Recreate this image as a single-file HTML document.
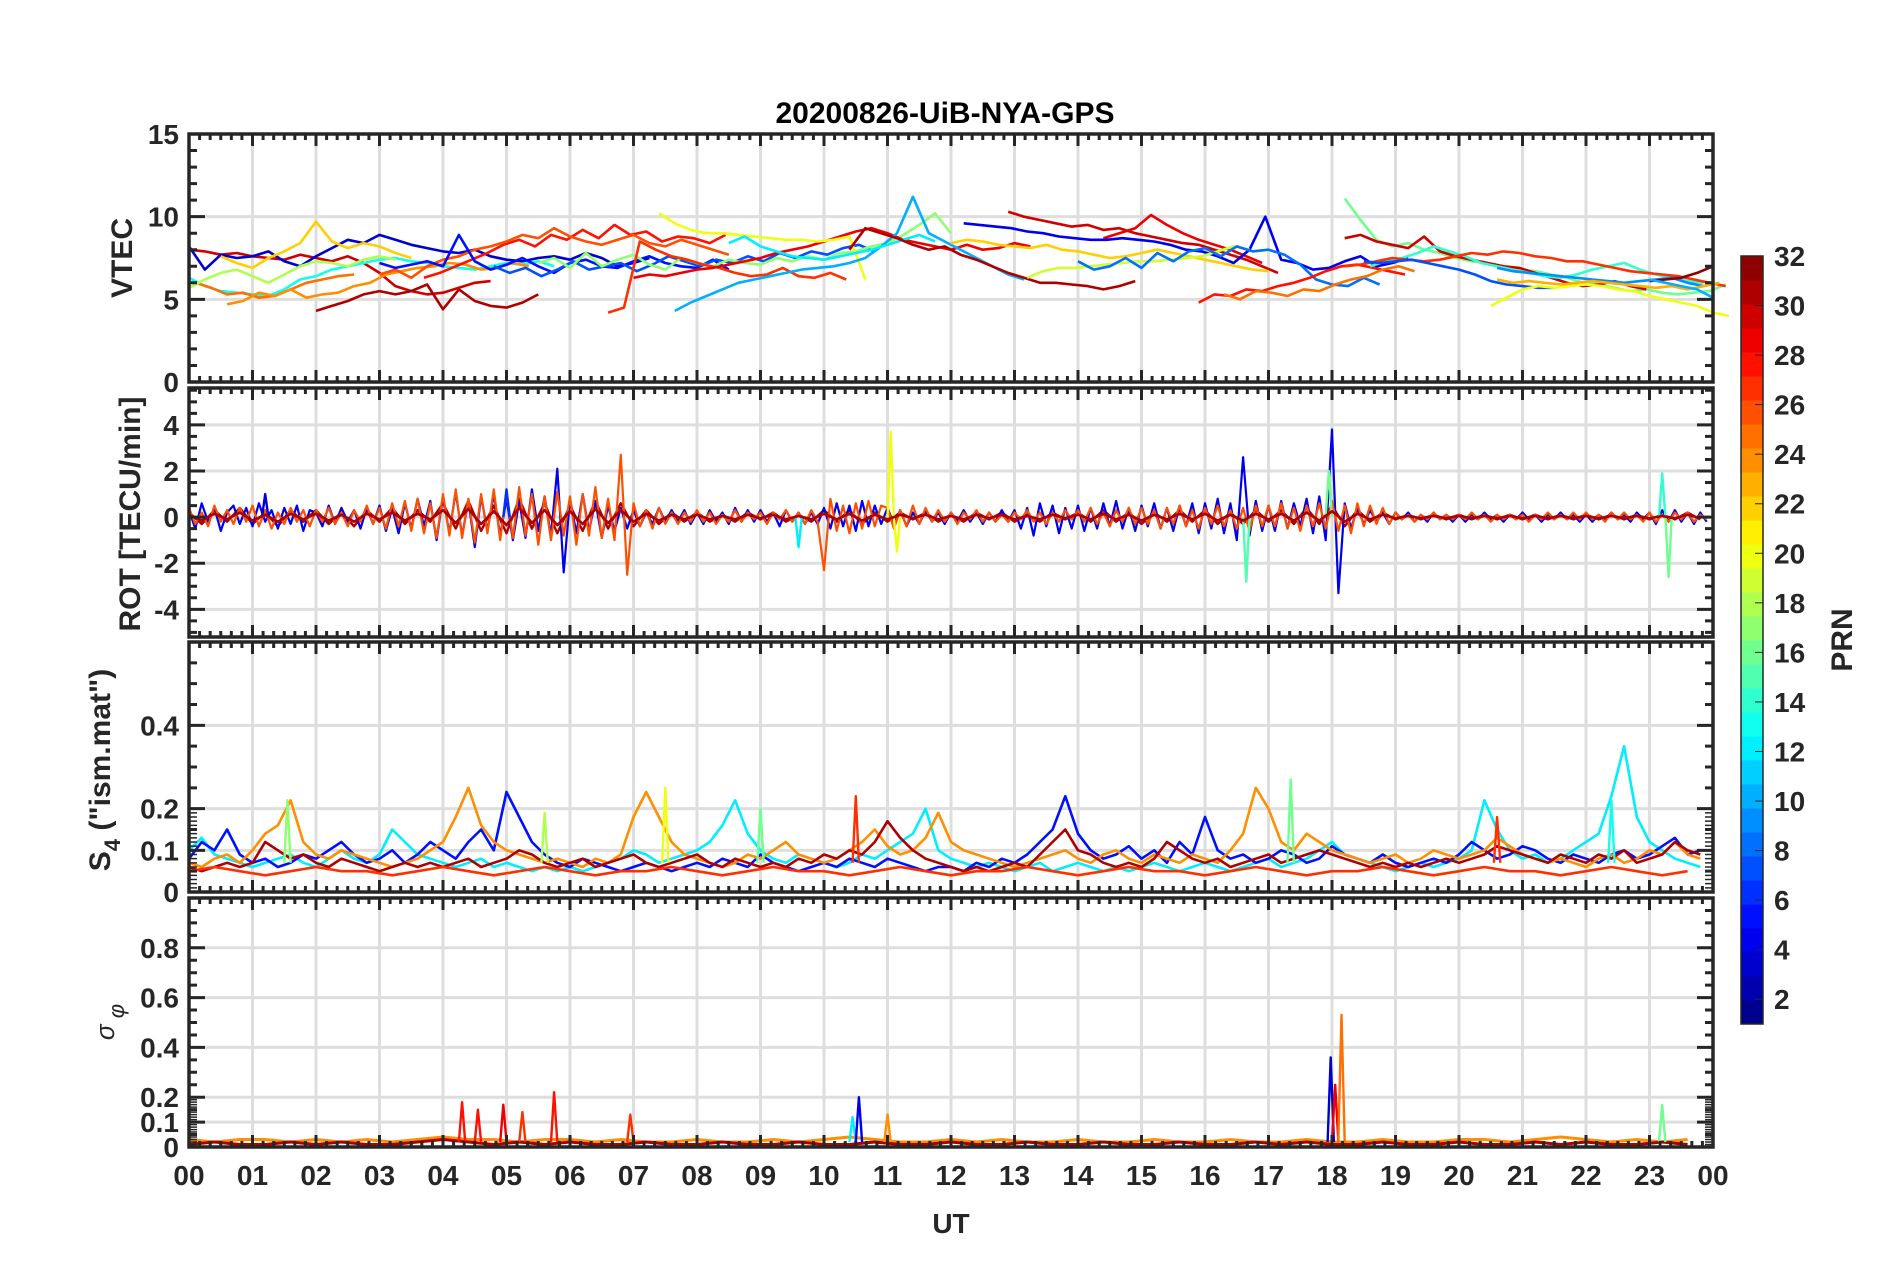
<!DOCTYPE html>
<html><head><meta charset="utf-8"><style>
html,body{margin:0;padding:0;background:#fff;}
svg{display:block;font-family:"Liberation Sans",Arial,sans-serif;}
</style></head><body>
<svg id="fig" width="1902" height="1272" viewBox="0 0 1902 1272" xmlns="http://www.w3.org/2000/svg">
<rect x="0" y="0" width="1902" height="1272" fill="#fff"/>
<text x="945" y="123" text-anchor="middle" font-size="30" font-weight="bold" fill="#000">20200826-UiB-NYA-GPS</text>
<text x="951" y="1233" text-anchor="middle" font-size="28" font-weight="bold" fill="#262626">UT</text>
<text transform="translate(132,258) rotate(-90)" text-anchor="middle" font-size="30" font-weight="bold" fill="#262626">VTEC</text>
<text transform="translate(140,514) rotate(-90)" text-anchor="middle" font-size="30" font-weight="bold" fill="#262626">ROT [TECU/min]</text>
<text transform="translate(110,770) rotate(-90)" text-anchor="middle" font-size="30" font-weight="bold" fill="#262626">S<tspan font-size="22" dy="10">4</tspan><tspan dy="-10"> ("ism.mat")</tspan></text>
<text transform="translate(114,1022) rotate(-90)" text-anchor="middle" font-size="26" font-style="italic" fill="#262626">σ<tspan font-size="22" dy="10"> φ</tspan></text>
<text transform="translate(1852,640) rotate(-90)" text-anchor="middle" font-size="30" font-weight="bold" fill="#262626">PRN</text>
<g id="layer"></g>
</svg>
<script>
// ---------- DATA ----------
const hourTicks = ["00","01","02","03","04","05","06","07","08","09","10","11","12","13","14","15","16","17","18","19","20","21","22","23","00"];
const prnTicks = [2,4,6,8,10,12,14,16,18,20,22,24,26,28,30,32];
const vtecTicks = [0,5,10,15];
const rotTicks = [-4,-2,0,2,4];
const s4Ticks = [0,0.1,0.2,0.4];
const sigTicks = [0,0.1,0.2,0.4,0.6,0.8];

// VTEC arcs: [prn, startHour, values every 0.25 h]
const vtecArcs = [
[30,0,[8.0,7.9,7.7,7.8,7.6,7.5,7.4,7.7,7.5,7.3,7.6,7.2,6.6,5.8,5.5,5.3,5.4,5.7,6.0,6.1]],
[31,2.0,[4.3,4.6,4.9,5.3,5.5,5.3,5.5,5.9,4.4,5.6,4.9,4.6,4.5,4.8,5.3]],
[3,0,[8.2,6.8,7.7,7.5,7.6,7.9,7.3,7.0,7.6,8.1,8.6,8.4,8.9,8.6,8.3,8.1,7.9,7.8,8.0,7.6,7.4,7.3,7.5,7.6,7.4,7.8,7.5,7.0,7.2,7.5]],
[22,0.5,[7.6,7.2,6.9,7.5,7.9,8.4,9.7,8.5,8.1,8.4,8.2,7.8,7.5]],
[13,0,[6.3,5.8,5.5,5.4,5.3,5.2,5.6,6.2,6.4,6.8,7.0,7.2,7.4,7.5,7.3,7.2,7.0,6.9,6.8,7.0,7.2,7.1,7.3,7.0]],
[25,0.1,[6.0,5.7,5.3,5.4,5.1,5.2,5.6,6.0,6.2,6.4,6.5]],
[24,0.6,[4.7,4.9,5.4,5.2,5.6,5.1,5.3,5.4,5.8,6.0,6.5,6.7,6.9,7.0,7.2,7.1,6.8,6.9,7.2,7.0]],
[18,0,[5.7,6.2,6.6,6.8,6.4,6.0,6.5,7.0,7.3,7.2,7.0,7.4,7.6,7.4]],
[28,3.7,[6.3,6.6,7.0,7.4,7.8,8.3,8.6,8.2,8.9,8.6,9.2,8.7,9.5,8.9,9.1,8.5,8.8,8.7,8.4,8.9]],
[26,3.0,[6.5,6.8,6.3,7.0,7.4,7.6,8.0,8.2,8.5,8.9,8.7,9.3,8.8,8.5,8.3,8.6,8.9,8.4,8.2,8.6,8.3,8.0,7.7]],
[5,3.0,[7.2,6.9,7.1,7.3,7.0,8.9,7.3,6.8,7.1,7.5,7.0,6.6,7.2,7.4,7.0,6.9,7.3,7.6,7.2,7.0,6.9,7.4,6.8]],
[7,4.8,[7.0,6.6,6.9,6.4,6.8,7.3,6.8,7.0,7.2,6.7,7.1,7.6,7.3,7.0,7.4,7.2,7.6,7.3,7.8,7.5,7.9,7.7,8.1,8.3,7.9]],
[17,5.5,[7.2,7.5,6.9,7.8,7.0,7.4,7.7,7.1,6.8,7.5,7.2,7.0,7.4,7.2,7.1,7.5,7.3,7.6,7.4,7.8,7.9,8.2,8.4,8.9,9.5,10.2,9.0]],
[27,6.6,[4.2,4.5,8.5,8.0,7.6,7.4,7.1,6.9,6.6,6.4,6.5,6.9,6.4,6.3,6.6,6.2]],
[29,7.0,[6.3,6.5,6.4,6.6,6.8,6.9,7.1,7.3,7.5,7.8,8.0,8.2,8.5,8.8,9.1,9.3,9.0,8.6,8.4,8.2,8.0,8.3,8.0,8.1,8.4,8.2]],
[20,7.4,[10.2,9.6,9.2,9.0,9.0,8.9,8.8,8.7,8.6,8.6,8.5,8.6,8.8,6.2]],
[10,7.65,[4.3,4.8,5.2,5.6,6.0,6.2,6.4,6.6,6.8,6.9,7.0,7.2,7.5,8.2,9.0,11.2,9.0,8.5,8.0,7.5,7.0,6.5,6.2]],
[12,8.5,[8.4,8.8,8.2,7.9,7.6,7.5,7.4,7.6,7.8,8.0,8.3,8.6,8.9,8.5]],
[31,10.4,[8.0,9.3,9.0,8.7,8.3,8.0,8.2,7.7,7.4,7.0,6.6,6.3,6.0,6.0,5.9,5.8,5.6,5.8,6.1]],
[30,12.9,[10.3,10.0,9.8,9.6,9.4,9.5,9.2,9.3,9.0,8.8,8.6,8.4,8.3,8.0,7.7,7.4,7.0,6.6]],
[29,14.4,[8.7,9.0,9.3,10.1,9.5,9.0,8.6,8.3,8.0,7.6,7.2]],
[4,12.2,[9.6,9.5,9.4,9.3,9.1,9.0,8.8,8.7,8.6,8.6,8.7,8.6,8.5,8.3,8.0,7.9,7.6,7.2,8.0,10.0,7.4,7.2,6.8,6.9,7.3,7.6,7.0,7.2,7.5]],
[22,12.0,[8.4,8.6,8.5,8.3,8.2,8.1,8.3,8.0,7.9,7.7,7.5,7.6,7.8,8.0,7.8,7.6,7.4,7.2,7.0,6.8,6.7]],
[19,13.2,[6.3,6.7,6.9,6.9,7.0,7.1,7.2,7.3,7.3,7.4,7.5,7.6,7.9,8.2,8.0]],
[8,14.0,[7.3,6.8,7.0,7.5,6.9,7.8,7.3,7.9,8.1,7.6,8.2,7.9,8.0,7.7,7.1,6.2,5.9,5.8,6.3,5.9]],
[28,15.9,[4.8,5.3,5.2,5.6,5.5,5.8,6.0,6.3,6.7,7.0,7.1,6.9,6.7,6.5]],
[25,16.3,[5.3,5.0,5.5,5.4,5.2,5.6,5.5,5.9,6.2,6.4,6.8,7.0,6.7]],
[16,18.2,[11.1,9.8,8.6,8.2,8.4,8.0,7.8,7.5,7.3,7.2,7.0,6.8,6.7,6.5,6.3,6.0,5.9,5.7,5.5,5.6,5.4,5.3,5.4,5.5,5.9]],
[30,18.2,[8.7,8.9,8.5,8.3,8.1,8.8,7.9,7.6,7.4,7.2,7.0,6.9,6.6,6.3,6.0,5.8,5.9,6.1,5.8,5.6]],
[14,18.6,[7.0,7.3,7.5,7.8,8.2,7.9,7.6,7.2,7.0,6.8,6.6,6.4,6.3,6.5,6.8,7.0,7.2,6.8,6.5,6.3,6.1,6.0]],
[27,18.2,[7.0,7.1,7.3,7.5,7.4,7.3,7.4,7.6,7.8,7.7,7.9,7.8,7.6,7.5,7.3,7.3,7.1,6.9,6.7,6.6,6.5,6.4,6.2,6.0,5.8]],
[7,18.5,[7.3,7.2,7.3,7.4,7.2,7.0,6.8,6.5,6.1,5.9,5.8,5.7,5.7]],
[9,20.6,[6.9,6.7,6.6,6.5,6.4,6.3,6.2,6.1,6.0,6.1,6.2,6.3,6.0,5.8]],
[20,20.5,[4.6,5.1,5.6,5.8,5.7,5.8,5.9,5.8,5.6,5.5,5.2,5.0,4.8,4.6,4.2,4.0]],
[23,20.6,[6.2,6.0,6.1,6.0,5.9,6.0,6.1,6.0,5.9,5.8,5.7,5.8,5.6,5.8,6.0]],
[32,23.0,[6.1,6.2,6.3,6.6,7.0]],
[10,23.0,[6.2,6.0,5.8,5.6,5.1]]
];

// ROT series (TECU/min)
const rotBluePRN = 4, rotRedPRN = 26, rotDarkPRN = 31;
const rotBlue = [.3,-.5,.6,-.2,.4,-.6,.2,.5,-.3,.4, -.4,.6,-.2,.3,-.5,.4,-.3,.5,-.6,.3, .2,-.4,.5,-.3,.4,-.2,.3,-.5,.4,-.3, .5,-.6,.4,-.7,.6,-.5,.8,-.4,.7,-1.0, .9,-.7,1.1,-.8,.7,-1.3,.9,-.6,1.0,-.8, .8,-1.0,.7,-.9,1.2,-.6,.9,-.8,2.1,-2.4, .8,-.7,1.0,-.6,.7,-.9,.5,-.6,.4,-.5, .3,-.4,.2,-.3,.4,-.2,.3,-.2,.3,-.3, .2,-.3,.3,-.2,.2,-.3,.4,-.2,.3,-.2, .3,-.2,.2,-.4,.3,-.2,.2,-.3,.2,-.3, .4,-.5,.6,-.4,.5,-.6,.7,-.4,.5,-.3, .4,-.3,.3,-.4,.2,-.3,.3,-.2,.2,-.3, .2,-.2,.3,-.2,.2,-.3,.2,-.2,.3,-.2, .3,-.5,.4,-.8,.6,-.4,.5,-.7,.4,-.5, .5,-.6,.4,-.5,.6,-.4,.7,-.5,.4,-.6, .5,-.4,.6,-.5,.4,-.6,.5,-.4,.6,-.7, .6,-.5,.8,-.7,.6,-1.0,2.6,-.8,.7,-.6, .5,-.6,.7,-.5,.6,-.4,.8,-.7,.9,-1.0, 3.8,-3.3,.6,-.5,.4,-.3,.3,-.2,.2,-.3, .2,-.1,.2,-.2,.1,-.2,.2,-.1,.1,-.2, .1,-.2,.1,-.1,.2,-.1,.1,-.2,.1,-.1, .2,-.1,.1,-.2,.1,-.1,.2,-.1,.1,-.2, .1,-.2,.1,-.1,.2,-.1,.1,-.2,.2,-.1, .2,-.3,.3,-.2,.3,-.2,.2,-.3,.2,-.2];
const rotRed = [.4,-.3,.2,-.4,.5,-.2,.3,-.3,.4,-.2, .5,-.4,.3,-.5,.2,-.3,.4,-.2,.3,-.4, .3,-.2,.4,-.3,.2,-.4,.3,-.2,.5,-.3, .4,-.5,.6,-.4,.7,-.6,.8,-.7,.6,-.9, 1.0,-.8,1.2,-.9,.8,-1.1,1.0,-.7,1.2,-1.0, 1.1,-.9,1.3,-.8,1.0,-1.2,.9,-1.0,1.1,-.8, .9,-1.2,1.0,-.8,1.3,-.9,.8,-1.0,2.7,-2.5, .6,-.4,.3,-.5,.4,-.3,.2,-.3,.2,-.2, .3,-.2,.2,-.3,.1,-.2,.3,-.2,.2,-.1, .2,-.3,.2,-.1,.3,-.2,.2,-.3,.3,-.2, -2.3,.8,-.6,.5,-.7,.6,-.5,.7,-.4,.5, .4,-.5,.3,-.4,.5,-.3,.4,-.2,.3,-.2, .2,-.3,.2,-.1,.3,-.2,.2,-.2,.1,-.2, .2,-.1,.3,-.2,.2,-.3,.2,-.2,.3,-.1, .3,-.2,.4,-.3,.2,-.4,.3,-.2,.4,-.3, .4,-.3,.3,-.5,.4,-.3,.5,-.4,.3,-.5, .4,-.3,.5,-.4,.3,-.5,.4,-.6,.5,-.4, .5,-.4,.6,-.5,.4,-.6,.5,-.4,.6,-.5, .7,-.6,.5,-.7,.6,-.4,.5,-.3,.4,-.3, .2,-.1,.1,-.2,.1,-.1,.2,-.1,.1,-.1, .1,-.1,.2,-.1,.1,-.2,.1,-.1,.1,-.1, .1,-.2,.1,-.1,.2,-.1,.1,-.1,.2,-.1, .2,-.1,.1,-.2,.2,-.1,.2,-.1,.1,-.2, .2,-.2,.1,-.2,.2,-.1,.2,-.2,.1,-.1];
const rotDark = [.2,-.3,.3,-.2,.4,-.3,.2,-.4,.3,-.2,.3,-.3,.2,-.4,.3,-.2,.4,-.3,.3,-.2, .6,-.5,.7,-.6,.5,-.7,.8,-.5,.6,-.7,.5,-.6,.7,-.5,.6,-.4,.3,-.3,.2,-.2, .2,-.2,.1,-.2,.2,-.1,.2,-.2,.1,-.2,.3,-.2,.3,-.3,.2,-.2,.2,-.1,.2,-.2, .1,-.2,.2,-.1,.2,-.2,.1,-.2,.2,-.1,.2,-.2,.3,-.2,.2,-.3,.2,-.2,.3,-.2, .3,-.3,.2,-.3,.3,-.2,.3,-.3,.4,-.3,.5,-.4,.3,-.2,.2,-.1,.1,-.1,.1,-.1, .1,-.1,.1,-.1,.1,-.1,.1,-.1,.1,-.1,.1,-.1,.1,-.1,.1,-.1,.1,-.1,.2,-.1];
const rotSpikeT = [1.2,5.0,9.6,11.05,11.15,16.65,17.95,23.2,23.3];
const rotSpikeV = [1.0,1.2,-1.3,3.7,-1.5,-2.8,2.0,1.9,-2.6];
const rotSpikePRN = [3,6,12,20,20,15,16,14,16];

// S4 series every 0.2 h
const s4Blue = [.08,.12,.10,.15,.09,.07,.08,.06,.07,.09,.08,.10,.12,.09,.07,.08,.10,.07,.09,.12, .10,.08,.12,.15,.10,.24,.18,.12,.09,.07,.06,.08,.07,.06,.05,.06,.07,.06,.05,.06, .07,.06,.08,.07,.06,.09,.07,.06,.05,.06,.07,.06,.08,.07,.06,.08,.07,.06,.05,.06, .06,.05,.07,.06,.08,.07,.09,.12,.15,.23,.14,.10,.08,.09,.11,.08,.10,.07,.12,.09, .18,.10,.08,.09,.07,.08,.10,.09,.07,.08,.11,.09,.08,.07,.09,.07,.06,.07,.08,.07, .09,.12,.10,.08,.09,.11,.10,.08,.07,.09,.08,.07,.09,.10,.08,.09,.11,.13,.09,.10];
const s4Cyan = [.10,.13,.09,.08,.07,.06,.07,.08,.09,.07,.06,.08,.10,.08,.07,.09,.15,.12,.09,.08, .07,.06,.07,.08,.06,.07,.06,.05,.06,.05,.06,.05,.06,.07,.08,.10,.09,.07,.08,.09, .10,.12,.16,.22,.14,.10,.08,.07,.09,.08,.07,.06,.07,.09,.08,.10,.12,.14,.20,.10, .08,.07,.06,.07,.06,.05,.06,.07,.05,.06,.07,.06,.05,.06,.05,.06,.07,.06,.05,.06, .07,.06,.05,.06,.07,.08,.06,.07,.08,.10,.12,.09,.08,.07,.06,.05,.06,.07,.06,.07, .08,.10,.22,.15,.10,.08,.09,.07,.08,.10,.12,.14,.23,.35,.18,.12,.10,.08,.07,.06];
const s4Orange = [.07,.06,.08,.09,.07,.10,.14,.16,.22,.12,.09,.08,.10,.09,.08,.07,.06,.07,.08,.10, .12,.18,.25,.16,.12,.10,.09,.08,.07,.08,.07,.06,.08,.07,.09,.18,.24,.18,.12,.09, .08,.07,.06,.07,.09,.08,.10,.12,.09,.08,.07,.08,.10,.12,.15,.11,.09,.10,.13,.19, .12,.10,.09,.08,.07,.06,.07,.08,.09,.10,.08,.07,.09,.10,.08,.07,.09,.08,.07,.09, .08,.07,.10,.14,.25,.20,.12,.10,.14,.12,.10,.09,.08,.07,.08,.09,.07,.08,.10,.09, .08,.09,.10,.13,.11,.09,.08,.07,.08,.07,.06,.08,.09,.07,.08,.10,.09,.12,.09,.08];
const s4Dark = [.06,.05,.06,.07,.06,.07,.12,.10,.08,.09,.07,.06,.08,.07,.06,.05,.06,.07,.06,.07, .06,.07,.08,.06,.07,.08,.10,.09,.07,.06,.07,.08,.06,.07,.08,.09,.07,.06,.07,.08, .09,.07,.06,.08,.07,.06,.07,.06,.08,.07,.09,.08,.10,.09,.12,.17,.13,.10,.08,.07, .06,.05,.06,.05,.06,.07,.06,.09,.12,.15,.10,.09,.07,.06,.07,.06,.08,.12,.10,.08, .07,.08,.06,.07,.08,.09,.07,.08,.09,.10,.09,.08,.07,.06,.07,.06,.07,.06,.07,.08, .07,.08,.09,.11,.10,.09,.08,.07,.09,.08,.07,.09,.08,.10,.07,.08,.09,.12,.10,.09];
// low baseline series every 0.4 h
const s4Red = [.05,.06,.05,.04,.05,.06,.05,.05,.04,.05,.06,.05,.04,.05,.06,.05,.04,.05,.05,.06,.05,.04,.05,.06,.05,.05,.04,.05,.06,.05,.04,.05,.05,.06,.05,.04,.05,.06,.05,.05,.04,.05,.06,.05,.04,.05,.05,.06,.05,.04,.05,.06,.05,.05,.04,.05,.06,.05,.04,.05];
const s4SpikeT = [1.55,5.6,7.5,9.0,10.5,17.35,20.6,22.4];
const s4SpikeV = [.22,.19,.25,.20,.23,.27,.18,.22];
const s4SpikePRN = [17,18,20,16,27,16,27,13];

// sigma-phi baseline every 0.4 h
const sigOrange = [.03,.02,.03,.03,.02,.03,.02,.03,.02,.03,.04,.03,.03,.02,.03,.03,.02,.03,.02,.02,.03,.02,.02,.03,.02,.03,.04,.03,.02,.02,.03,.02,.03,.02,.02,.03,.02,.02,.03,.02,.02,.03,.02,.02,.03,.02,.02,.03,.02,.02,.03,.03,.02,.03,.04,.03,.02,.03,.02,.03];
const sigDark = [.01,.02,.01,.01,.02,.01,.02,.01,.01,.02,.03,.02,.01,.02,.01,.02,.01,.01,.02,.01,.01,.02,.01,.01,.02,.01,.01,.02,.01,.01,.02,.01,.01,.02,.01,.01,.02,.01,.01,.02,.01,.01,.02,.01,.02,.01,.01,.02,.01,.01,.02,.01,.01,.02,.01,.02,.01,.01,.02,.01];
const sigSpikeT = [4.3,4.55,4.95,5.25,5.75,6.95,10.45,10.55,11.0,17.98,18.05,18.15,23.2];
const sigSpikeV = [.18,.15,.17,.14,.22,.13,.12,.20,.13,.36,.25,.53,.17];
const sigSpikePRN = [28,28,29,27,28,27,12,4,24,3,29,25,16];

// ---------- RENDERING ----------
const NS = "http://www.w3.org/2000/svg";
const layer = document.getElementById('layer');
const X0 = 189, X1 = 1713;
const xs = h => X0 + (X1 - X0) * h / 24;
function jet(p){
  const v = (p - 0.5) / 32;
  const c = t => Math.round(255 * Math.max(0, Math.min(1, t)));
  return `rgb(${c(1.5-Math.abs(4*v-3))},${c(1.5-Math.abs(4*v-2))},${c(1.5-Math.abs(4*v-1))})`;
}
function mk(tag, attrs, parent){
  const e = document.createElementNS(NS, tag);
  for (const k in attrs) e.setAttribute(k, attrs[k]);
  (parent || layer).appendChild(e);
  return e;
}
const panels = [
  {name:'vtec', top:134, bot:382, min:0, max:15, ticks:vtecTicks, minor:1},
  {name:'rot', top:388, bot:637, min:-5.2, max:5.6, ticks:rotTicks, minor:0.5},
  {name:'s4', top:642, bot:892, min:0, max:0.6, ticks:s4Ticks, minor:0.05},
  {name:'sigma', top:898, bot:1147, min:0, max:1, ticks:sigTicks, minor:0.05}
];
panels.forEach(p => { p.y = v => p.bot - (p.bot - p.top) * (v - p.min) / (p.max - p.min); });

function drawPanelFrame(p, idx){
  const g = mk('g', {});
  
  
  for (let h = 1; h < 24; h++) {
    const l = mk('line', {x1:xs(h), x2:xs(h), y1:p.top, y2:p.bot, stroke:'#dedede', 'stroke-width':3}, g);
    
    
  }
  p.ticks.forEach(t => {
    const l = mk('line', {x1:X0, x2:X1, y1:p.y(t), y2:p.y(t), stroke:'#dedede', 'stroke-width':3}, g);
    
    
  });
  p.g = mk('g', {}, layer);
  
  
  p.frame = mk('g', {}, layer);
  
  
}
function finishFrame(p, idx){
  const g = p.frame;
  let d = '';
  for (let i = 0; i <= 144; i++) {
    const x = xs(i / 6), L = (i % 6 === 0) ? 12 : 6;
    d += `M${x},${p.top}v${L}M${x},${p.bot}v${-L}`;
  }
  const first = Math.ceil(p.min / p.minor);
  for (let i = first; i * p.minor <= p.max + 1e-9; i++) {
    const y = p.y(i * p.minor);
    d += `M${X0},${y}h8M${X1},${y}h-8`;
  }
  p.ticks.forEach(t => { const y = p.y(t); d += `M${X0},${y}h16M${X1},${y}h-16`; });
  mk('path', {d, stroke:'#262626', 'stroke-width':3, fill:'none'}, g);
  if (p.name === 's4' || p.name === 'sigma') {
    let d2 = '';
    for (let v = 0.01; v < 0.2; v += 0.01) { const y = p.y(v); d2 += `M${X0},${y}h8M${X1},${y}h-8`; }
    mk('path', {d:d2, stroke:'#262626', 'stroke-width':1.5, fill:'none'}, g);
  }
  const box = mk('rect', {x:X0, y:p.top, width:X1-X0, height:p.bot-p.top, fill:'none', stroke:'#262626', 'stroke-width':3.5}, g);
  
  
  p.ticks.forEach(t => {
    const tx = mk('text', {x:179, y:p.y(t)+10, 'text-anchor':'end', 'font-size':28, 'font-weight':'bold', fill:'#262626'}, g);
    tx.textContent = String(t);
    
    
  });
}
function polyline(p, pts, prn, w){
  const d = pts.map((q,i) => (i ? 'L' : 'M') + q[0].toFixed(1) + ',' + q[1].toFixed(1)).join('');
  const e = mk('path', {d, stroke:jet(prn), 'stroke-width':w || 2.4, fill:'none', 'stroke-linejoin':'round'}, p.g);
  
  
}
function series(p, prn, start, step, vals, w){
  polyline(p, vals.map((v,i) => [xs(start + i*step), p.y(v)]), prn, w);
}
function spikes(p, T, V, P, base){
  T.forEach((t,i) => {
    polyline(p, [[xs(t-0.05), p.y(base)], [xs(t), p.y(V[i])], [xs(t+0.05), p.y(base)]], P[i], 2.4);
  });
}

panels.forEach(drawPanelFrame);
const [pV, pR, pS, pG] = panels;
vtecArcs.forEach(a => series(pV, a[0], a[1], 0.25, a[2], 2.6));
series(pR, rotDarkPRN, 0, 0.2, rotDark, 2.4);
series(pR, rotBluePRN, 0, 0.1, rotBlue, 2.2);
series(pR, rotRedPRN, 0, 0.1, rotRed, 2.2);
spikes(pR, rotSpikeT, rotSpikeV, rotSpikePRN, 0);
series(pR, rotDarkPRN, 0, 0.2, rotDark.map(v => v * 0.5), 2.6);
series(pS, 12, 0, 0.2, s4Cyan, 2.6);
series(pS, 5, 0, 0.2, s4Blue, 2.6);
series(pS, 24, 0, 0.2, s4Orange, 2.6);
series(pS, 31, 0, 0.2, s4Dark, 2.6);
series(pS, 27, 0, 0.4, s4Red, 2.6);
spikes(pS, s4SpikeT, s4SpikeV, s4SpikePRN, 0.07);
series(pG, 24, 0, 0.4, sigOrange, 3);
series(pG, 31, 0, 0.4, sigDark, 3);
spikes(pG, sigSpikeT, sigSpikeV, sigSpikePRN, 0.02);
panels.forEach(finishFrame);

hourTicks.forEach((lab, i) => {
  const t = mk('text', {x:xs(i), y:1185, 'text-anchor':'middle', 'font-size':28, 'font-weight':'bold', fill:'#262626'});
  t.textContent = lab;
  
  
});

// colorbar
const CB = {x:1741, w:22, top:256, bot:1024, min:1, max:32};
const cbY = v => CB.bot - (CB.bot - CB.top) * (v - CB.min) / (CB.max - CB.min);
const cbg = mk('g', {});


const bh = (CB.bot - CB.top) / 32;
for (let p = 1; p <= 32; p++) {
  const r = mk('rect', {x:CB.x, y:CB.bot - p*bh, width:CB.w, height:bh+0.5, fill:jet(p)}, cbg);
  
  
}
mk('rect', {x:CB.x, y:CB.top, width:CB.w, height:CB.bot-CB.top, fill:'none', stroke:'#262626', 'stroke-width':1.5}, cbg);
prnTicks.forEach(v => {
  const y = cbY(v);
  mk('line', {x1:CB.x+CB.w-8, x2:CB.x+CB.w, y1:y, y2:y, stroke:'#262626', 'stroke-width':1}, cbg);
  const t = mk('text', {x:1774, y:y+10, 'font-size':28, 'font-weight':'bold', fill:'#262626'}, cbg);
  t.textContent = String(v);
  
  
});
</script>
</body></html>
